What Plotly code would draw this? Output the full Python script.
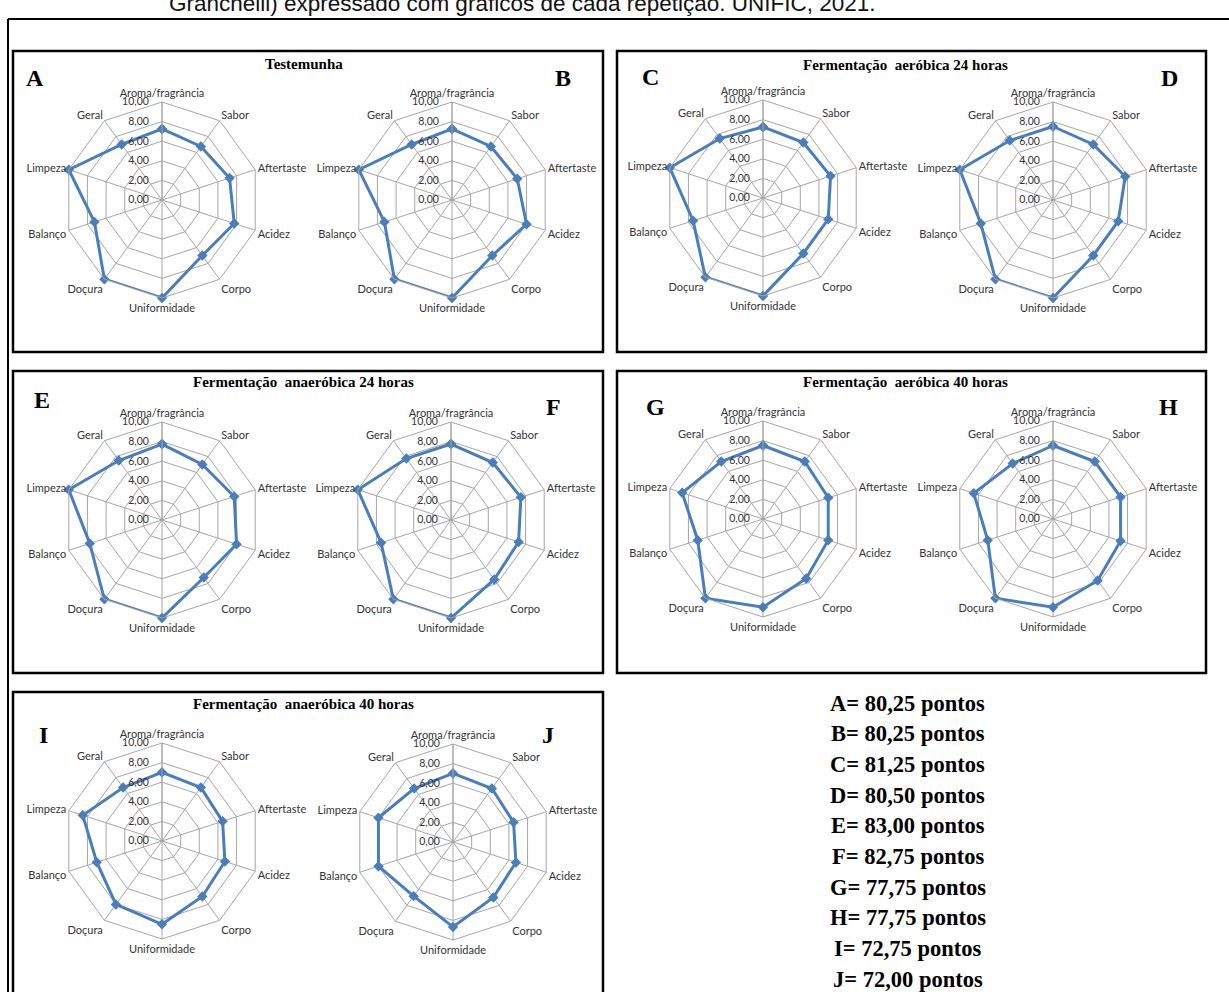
import plotly.graph_objects as go

# ---------------- data ----------------
categories = ["Aroma/fragrância", "Sabor", "Aftertaste", "Acidez", "Corpo",
              "Uniformidade", "Doçura", "Balanço", "Limpeza", "Geral"]
rep_A = [7.25, 6.75, 7.25, 7.75, 7.00, 10.0, 10.0, 7.25, 10.0, 7.00]
rep_B = [7.25, 6.75, 7.00, 8.00, 7.00, 10.0, 10.0, 7.25, 10.0, 7.00]
rep_C = [7.25, 7.00, 7.25, 7.00, 7.00, 10.0, 10.0, 7.50, 10.0, 7.50]
rep_D = [7.50, 7.00, 7.75, 7.00, 7.00, 10.0, 10.0, 7.75, 10.0, 7.50]
rep_E = [7.75, 7.00, 7.75, 8.00, 7.25, 10.0, 10.0, 7.75, 10.0, 7.50]
rep_F = [7.75, 7.25, 7.50, 7.25, 7.50, 10.0, 10.0, 7.50, 10.0, 7.75]
rep_G = [7.50, 7.25, 7.00, 7.00, 7.50, 9.00, 10.0, 7.00, 8.67, 7.25]
rep_H = [7.50, 7.25, 7.25, 7.25, 7.75, 9.00, 10.0, 7.00, 8.50, 7.00]
rep_I = [7.00, 6.75, 6.50, 6.75, 7.00, 8.50, 8.00, 7.00, 8.50, 6.75]
rep_J = [7.00, 6.75, 6.50, 6.75, 7.00, 8.67, 6.83, 8.00, 8.00, 6.75]
rep_letters = ["A", "B", "C", "D", "E", "F", "G", "H", "I", "J"]
rep_values = [rep_A, rep_B, rep_C, rep_D, rep_E, rep_F, rep_G, rep_H, rep_I, rep_J]
scores = ["80,25", "80,25", "81,25", "80,50", "83,00", "82,75", "77,75", "77,75", "72,75", "72,00"]
panel_titles = ["Testemunha",
                "Fermentação\u00a0 aeróbica 24 horas",
                "Fermentação\u00a0 anaeróbica 24 horas",
                "Fermentação\u00a0 aeróbica 40 horas",
                "Fermentação\u00a0 anaeróbica 40 horas"]
radial_ticks = [0, 2, 4, 6, 8, 10]
radial_ticktext = ["0,00", "2,00", "4,00", "6,00", "8,00", "10,00"]
caption = "Granchelli) expressado com gráficos de cada repetição. UNIFIC, 2021."

# ---------------- layout geometry (pixels) ----------------
W, H = 1229, 992
R = 98
centers = [(162, 200), (452, 200), (763, 198), (1053, 200),
           (162, 520), (451, 520), (763, 519), (1053, 519),
           (162, 841), (453, 842)]
letter_pos = [(35, 78), (563, 78), (650, 77), (1169, 78),
              (42, 400), (553, 407), (655, 407), (1168, 407),
              (43, 735), (548, 735)]
panels = [(13, 51, 603, 352), (617, 51, 1206, 352),
          (13, 371, 603, 673), (617, 371, 1206, 673),
          (13, 692, 603, 1000)]
title_pos = [(304, 64), (905, 65), (303, 382), (905, 382), (303, 704)]

BLUE = "#4a7ebb"
GRID = "#a6a6a6"
CAT_FONT = dict(family="Lato, 'Open Sans', sans-serif", size=11, color="#333333")
TICK_FONT = dict(family="Lato, 'Open Sans', sans-serif", size=10.5, color="#333333")
SERIF = "'Liberation Serif', 'Times New Roman', serif"


def fx(x):
    return x / W


def fy(y):
    return 1 - y / H


fig = go.Figure()
layout = dict(width=W, height=H, margin=dict(l=0, r=0, t=0, b=0),
              paper_bgcolor="white", plot_bgcolor="white", showlegend=False)

for i, (vals, (cx, cy)) in enumerate(zip(rep_values, centers)):
    key = "polar" if i == 0 else f"polar{i + 1}"
    fig.add_trace(go.Scatterpolar(
        r=vals + [vals[0]], theta=categories + [categories[0]],
        mode="lines+markers", subplot=key,
        line=dict(color=BLUE, width=3),
        marker=dict(symbol="diamond", size=8, color=BLUE),
        hoverinfo="skip"))
    layout[key] = dict(
        domain=dict(x=[fx(cx - R), fx(cx + R)], y=[fy(cy + R), fy(cy - R)]),
        bgcolor="rgba(0,0,0,0)",
        gridshape="linear",
        angularaxis=dict(rotation=90, direction="clockwise",
                         showline=True, linecolor=GRID, linewidth=1,
                         gridcolor=GRID, gridwidth=1, ticks="",
                         tickfont=CAT_FONT, categoryorder="array",
                         categoryarray=categories),
        radialaxis=dict(range=[0, 10], tickvals=radial_ticks,
                        ticktext=radial_ticktext, angle=90, tickangle=90,
                        side="counterclockwise", showline=True,
                        linecolor=GRID, linewidth=1, gridcolor=GRID,
                        gridwidth=1, ticks="outside", ticklen=9,
                        tickcolor="rgba(0,0,0,0)", tickfont=TICK_FONT),
    )

shapes = []
# outer frame (top and left)
shapes.append(dict(type="line", xref="paper", yref="paper",
                   x0=fx(8), x1=fx(1229), y0=fy(19), y1=fy(19),
                   line=dict(color="black", width=2)))
shapes.append(dict(type="line", xref="paper", yref="paper",
                   x0=fx(8), x1=fx(8), y0=fy(19), y1=fy(1000),
                   line=dict(color="black", width=2)))
for (x0, y0, x1, y1) in panels:
    shapes.append(dict(type="rect", xref="paper", yref="paper",
                       x0=fx(x0), x1=fx(x1), y0=fy(y1), y1=fy(y0),
                       line=dict(color="black", width=2.5),
                       fillcolor="rgba(0,0,0,0)", layer="below"))
layout["shapes"] = shapes

ann = []
ann.append(dict(text=caption, x=fx(522), y=fy(3), xref="paper", yref="paper",
                showarrow=False, xanchor="center", yanchor="middle",
                font=dict(family="'Liberation Sans', Arial, sans-serif",
                          size=22.5, color="#111111")))
for t, (x, y) in zip(panel_titles, title_pos):
    ann.append(dict(text=f"<b>{t}</b>", x=fx(x), y=fy(y), xref="paper",
                    yref="paper", showarrow=False, xanchor="center",
                    yanchor="middle",
                    font=dict(family=SERIF, size=15, color="black")))
for L, (x, y) in zip(rep_letters, letter_pos):
    ann.append(dict(text=f"<b>{L}</b>", x=fx(x), y=fy(y), xref="paper",
                    yref="paper", showarrow=False, xanchor="center",
                    yanchor="middle",
                    font=dict(family=SERIF, size=24, color="black")))
score_y0, score_dy = 703, 30.7
for k, (L, s) in enumerate(zip(rep_letters, scores)):
    ann.append(dict(text=f"<b>{L}= {s} pontos</b>", x=fx(908),
                    y=fy(score_y0 + k * score_dy), xref="paper",
                    yref="paper", showarrow=False, xanchor="center",
                    yanchor="middle",
                    font=dict(family=SERIF, size=22.5, color="black")))
layout["annotations"] = ann

fig.update_layout(**layout)
fig.write_html("out.html", config={"displayModeBar": False},
               post_script="document.body.style.margin='0';document.body.style.padding='0';")
